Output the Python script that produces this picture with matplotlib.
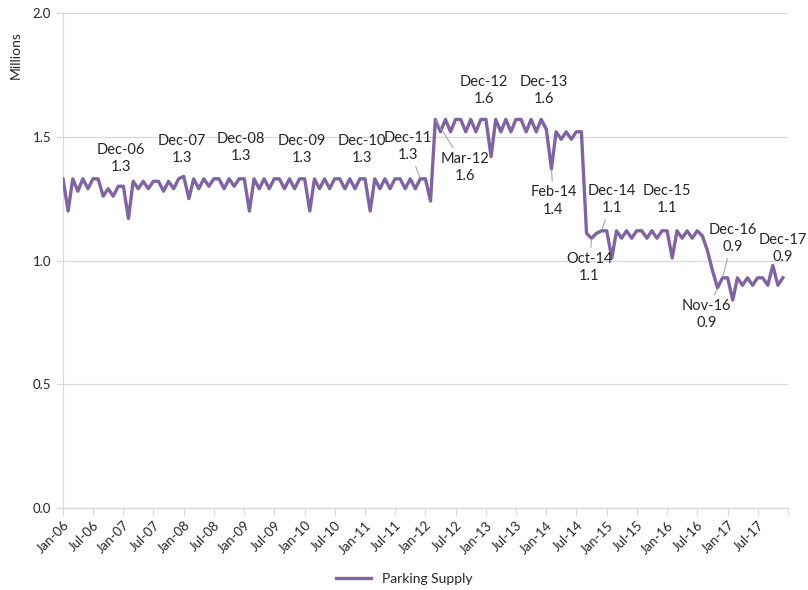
import numpy as np
import pandas as pd
import matplotlib
matplotlib.use("Agg")
import matplotlib.pyplot as plt

plt.rcParams['font.family'] = ['Lato', 'DejaVu Sans']

# monthly parking supply, millions, Jan-06 .. Dec-17
y2006 = [1.33, 1.20, 1.33, 1.28, 1.33, 1.29, 1.33, 1.33, 1.26, 1.29, 1.26, 1.30]
y2007 = [1.30, 1.17, 1.32, 1.29, 1.32, 1.29, 1.32, 1.32, 1.28, 1.32, 1.29, 1.33]
y2008 = [1.34, 1.25, 1.33, 1.29, 1.33, 1.30, 1.33, 1.33, 1.29, 1.33, 1.30, 1.33]
y2009 = [1.33, 1.20, 1.33, 1.29, 1.33, 1.29, 1.33, 1.33, 1.29, 1.33, 1.29, 1.33]
y2010 = [1.33, 1.20, 1.33, 1.29, 1.33, 1.29, 1.33, 1.33, 1.29, 1.33, 1.29, 1.33]
y2011 = [1.33, 1.20, 1.33, 1.29, 1.33, 1.29, 1.33, 1.33, 1.29, 1.33, 1.29, 1.33]
y2012 = [1.33, 1.24, 1.57, 1.52, 1.57, 1.52, 1.57, 1.57, 1.52, 1.57, 1.52, 1.57]
y2013 = [1.57, 1.42, 1.57, 1.52, 1.57, 1.52, 1.57, 1.57, 1.52, 1.57, 1.52, 1.57]
y2014 = [1.53, 1.37, 1.52, 1.49, 1.52, 1.49, 1.52, 1.52, 1.11, 1.09, 1.11, 1.12]
y2015 = [1.12, 1.01, 1.12, 1.09, 1.12, 1.09, 1.12, 1.12, 1.09, 1.12, 1.09, 1.12]
y2016 = [1.12, 1.01, 1.12, 1.09, 1.12, 1.09, 1.12, 1.10, 1.04, 0.96, 0.89, 0.93]
y2017 = [0.93, 0.84, 0.93, 0.90, 0.93, 0.90, 0.93, 0.93, 0.90, 0.98, 0.90, 0.93]

supply = (y2006 + y2007 + y2008 + y2009 + y2010 + y2011 +
          y2012 + y2013 + y2014 + y2015 + y2016 + y2017)
months = pd.date_range('2006-01-01', periods=len(supply), freq='MS')

# labelled points and where their labels sit (offset in pixels from the point)
ann_months = ['2006-12', '2007-12', '2008-12', '2009-12', '2010-12', '2011-12',
              '2012-12', '2013-12', '2012-03', '2014-02', '2014-12', '2015-12',
              '2014-10', '2016-12', '2016-11', '2017-12']
ann_dx = [3, 3, 2, 2, 2, -12, 3, 3, 30, 2, 10, 5, -2, 10, -11, 0]
ann_dy = [-28, -29, -31, -29, -29, -32, -29, -29, 48, 32, -31, -31, 29, -39, 27, -29]
ann_leader = [False, False, False, False, False, True, False, False,
              True, True, True, False, True, True, True, False]

purple = '#8064A2'
grid_c = '#D9D9D9'
text_c = '#262626'

fig = plt.figure(figsize=(8.08, 5.90), dpi=100)
ax = fig.add_axes([63/808, 1-508/590, (788-63)/808, (508-13)/590])

ax.plot(months, supply, color=purple, lw=2.4, label='Parking Supply',
        solid_joinstyle='round', zorder=3)

ax.set_ylim(0, 2.0)
ax.set_yticks(np.arange(0, 2.01, 0.5))
ax.yaxis.set_major_formatter(plt.FuncFormatter(lambda v, p: f'{v:.1f}'))
ax.set_xlim(pd.Timestamp('2006-01-01'), pd.Timestamp('2018-01-01'))

ticks = list(pd.date_range('2006-01-01', '2017-07-01', freq='6MS'))
ax.set_xticks(ticks + [pd.Timestamp('2018-01-01')])
ax.set_xticklabels([t.strftime('%b-%y') for t in ticks] + [''],
                   rotation=45, ha='right', va='top', rotation_mode='anchor')

ax.grid(axis='y', color=grid_c, lw=0.9)
ax.set_axisbelow(True)
for s in ['top', 'right']:
    ax.spines[s].set_visible(False)
for s in ['left', 'bottom']:
    ax.spines[s].set_color(grid_c)
    ax.spines[s].set_linewidth(0.9)
ax.tick_params(axis='both', colors=grid_c, length=5, width=0.9,
               labelcolor=text_c, labelsize=9.5)
ax.tick_params(axis='x', pad=3)

fig.text(16/808, 1-55/590, 'Millions', rotation=90, ha='center', va='center',
         fontsize=10, color=text_c)

val = pd.Series(supply, index=months)
for m, dx, dy, lead in zip(ann_months, ann_dx, ann_dy, ann_leader):
    d = pd.Timestamp(m + '-01')
    v = val[d]
    arrow = dict(arrowstyle='-', color='#A6A6A6', lw=0.8, shrinkA=1, shrinkB=1) if lead else None
    ax.annotate(f"{d.strftime('%b-%y')}\n{v:.1f}", xy=(d, v),
                xytext=(dx*0.72, -dy*0.72), textcoords='offset points',
                ha='center', va='center', fontsize=10.5, color=text_c,
                linespacing=1.3, arrowprops=arrow, zorder=4)

fig.legend(loc='lower center', bbox_to_anchor=(0.5, -0.012), frameon=False,
           fontsize=10, handlelength=2.5, labelcolor=text_c)

fig.savefig('out.png', dpi=100)
